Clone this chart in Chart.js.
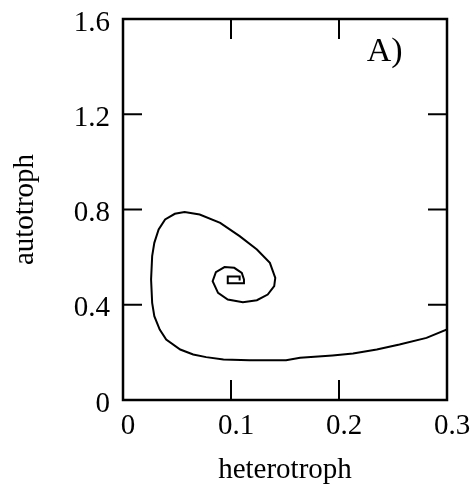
<!DOCTYPE html>
<html>
<head>
<meta charset="utf-8">
<script src="https://cdn.jsdelivr.net/npm/chart.js@4"></script>
<style>
  html, body { margin: 0; padding: 0; background: #fff; }
  #wrap { width: 472px; height: 485px; }
</style>
</head>
<body>
<div id="wrap"><canvas id="chart"></canvas></div>
<script>
// trajectory (starts at the right edge, spirals inward)
const heterotroph = [
  0.300, 0.281, 0.256, 0.235, 0.213, 0.194, 0.164, 0.151, 0.117, 0.093,
  0.077, 0.065, 0.053, 0.040, 0.034, 0.029, 0.027, 0.026, 0.027, 0.029,
  0.033, 0.039, 0.048, 0.057, 0.071, 0.090, 0.108, 0.124, 0.136, 0.141,
  0.140, 0.134, 0.124, 0.111, 0.097, 0.088, 0.083, 0.086, 0.094, 0.103,
  0.110, 0.112, 0.112, 0.097, 0.097, 0.108, 0.108
];
const autotroph = [
  0.296, 0.261, 0.233, 0.212, 0.195, 0.187, 0.177, 0.167, 0.167, 0.170,
  0.180, 0.191, 0.212, 0.254, 0.296, 0.352, 0.408, 0.506, 0.604, 0.660,
  0.716, 0.758, 0.782, 0.789, 0.779, 0.744, 0.688, 0.632, 0.576, 0.513,
  0.478, 0.443, 0.419, 0.411, 0.422, 0.450, 0.499, 0.537, 0.558, 0.555,
  0.534, 0.506, 0.490, 0.490, 0.519, 0.519, 0.502
];

const xTickValues = [0, 0.1, 0.2, 0.3];
const xTickLabels = ['0', '0.1', '0.2', '0.3'];
const yTickValues = [0, 0.4, 0.8, 1.2, 1.6];
const yTickLabels = ['0', '0.4', '0.8', '1.2', '1.6'];
const panelLabel = 'A)';

const SERIF = '"Liberation Serif", "Times New Roman", serif';

// box around the plot with inward tick marks, plus the panel letter
const frameTicks = {
  id: 'frameTicks',
  afterDatasetsDraw(chart) {
    const { ctx, chartArea: a, scales: { x, y } } = chart;
    ctx.save();
    ctx.strokeStyle = '#000';
    ctx.lineWidth = 2.5;
    ctx.strokeRect(a.left, a.top, a.right - a.left, a.bottom - a.top);
    ctx.lineWidth = 2;
    const seg = (x1, y1, x2, y2) => { ctx.beginPath(); ctx.moveTo(x1, y1); ctx.lineTo(x2, y2); ctx.stroke(); };
    x.ticks.forEach(t => {
      const px = x.getPixelForValue(t.value);
      seg(px, a.bottom, px, a.bottom - 20);
      seg(px, a.top, px, a.top + 20);
    });
    y.ticks.forEach(t => {
      const py = y.getPixelForValue(t.value);
      seg(a.left, py, a.left + 19, py);
      seg(a.right, py, a.right - 19, py);
    });
    ctx.fillStyle = '#000';
    ctx.font = '34px ' + SERIF;
    ctx.textAlign = 'center';
    ctx.textBaseline = 'alphabetic';
    ctx.fillText(panelLabel, x.getPixelForValue(0.2423), y.getPixelForValue(1.422));
    ctx.restore();
  }
};

new Chart(document.getElementById('chart').getContext('2d'), {
  type: 'scatter',
  data: {
    datasets: [{
      data: heterotroph.map((v, i) => ({ x: v, y: autotroph[i] })),
      showLine: true,
      borderColor: '#000',
      borderWidth: 2,
      pointRadius: 0,
      tension: 0
    }]
  },
  options: {
    responsive: true,
    maintainAspectRatio: false,
    animation: false,
    layout: { padding: { top: 19, right: 25, left: 0, bottom: 0 } },
    plugins: { legend: { display: false }, tooltip: { enabled: false } },
    scales: {
      x: {
        min: 0, max: 0.3,
        afterBuildTicks: s => { s.ticks = xTickValues.map(v => ({ value: v })); },
        afterFit: s => { s.height = 85; s.paddingLeft = 0; s.paddingRight = 0; },
        grid: { display: false, drawTicks: false },
        border: { display: false },
        ticks: {
          color: '#000', font: { family: SERIF, size: 29 }, padding: 9, labelOffset: 5,
          maxRotation: 0, autoSkip: false,
          callback: (v, i) => xTickLabels[i]
        },
        title: {
          display: true, text: 'heterotroph', color: '#000',
          font: { family: SERIF, size: 29, lineHeight: 1 }, padding: { top: 0, bottom: 0 }
        }
      },
      y: {
        min: 0, max: 1.6,
        afterBuildTicks: s => { s.ticks = yTickValues.map(v => ({ value: v })); },
        afterFit: s => { s.width = 123; s.paddingTop = 0; s.paddingBottom = 0; },
        grid: { display: false, drawTicks: false },
        border: { display: false },
        ticks: {
          color: '#000', font: { family: SERIF, size: 29 }, padding: 13, labelOffset: 4,
          autoSkip: false,
          callback: (v, i) => yTickLabels[i]
        },
        title: {
          display: true, text: 'autotroph', color: '#000',
          font: { family: SERIF, size: 29, lineHeight: 1.2 }, padding: { top: 8, bottom: 0 }
        }
      }
    }
  },
  plugins: [frameTicks]
});
</script>
</body>
</html>
